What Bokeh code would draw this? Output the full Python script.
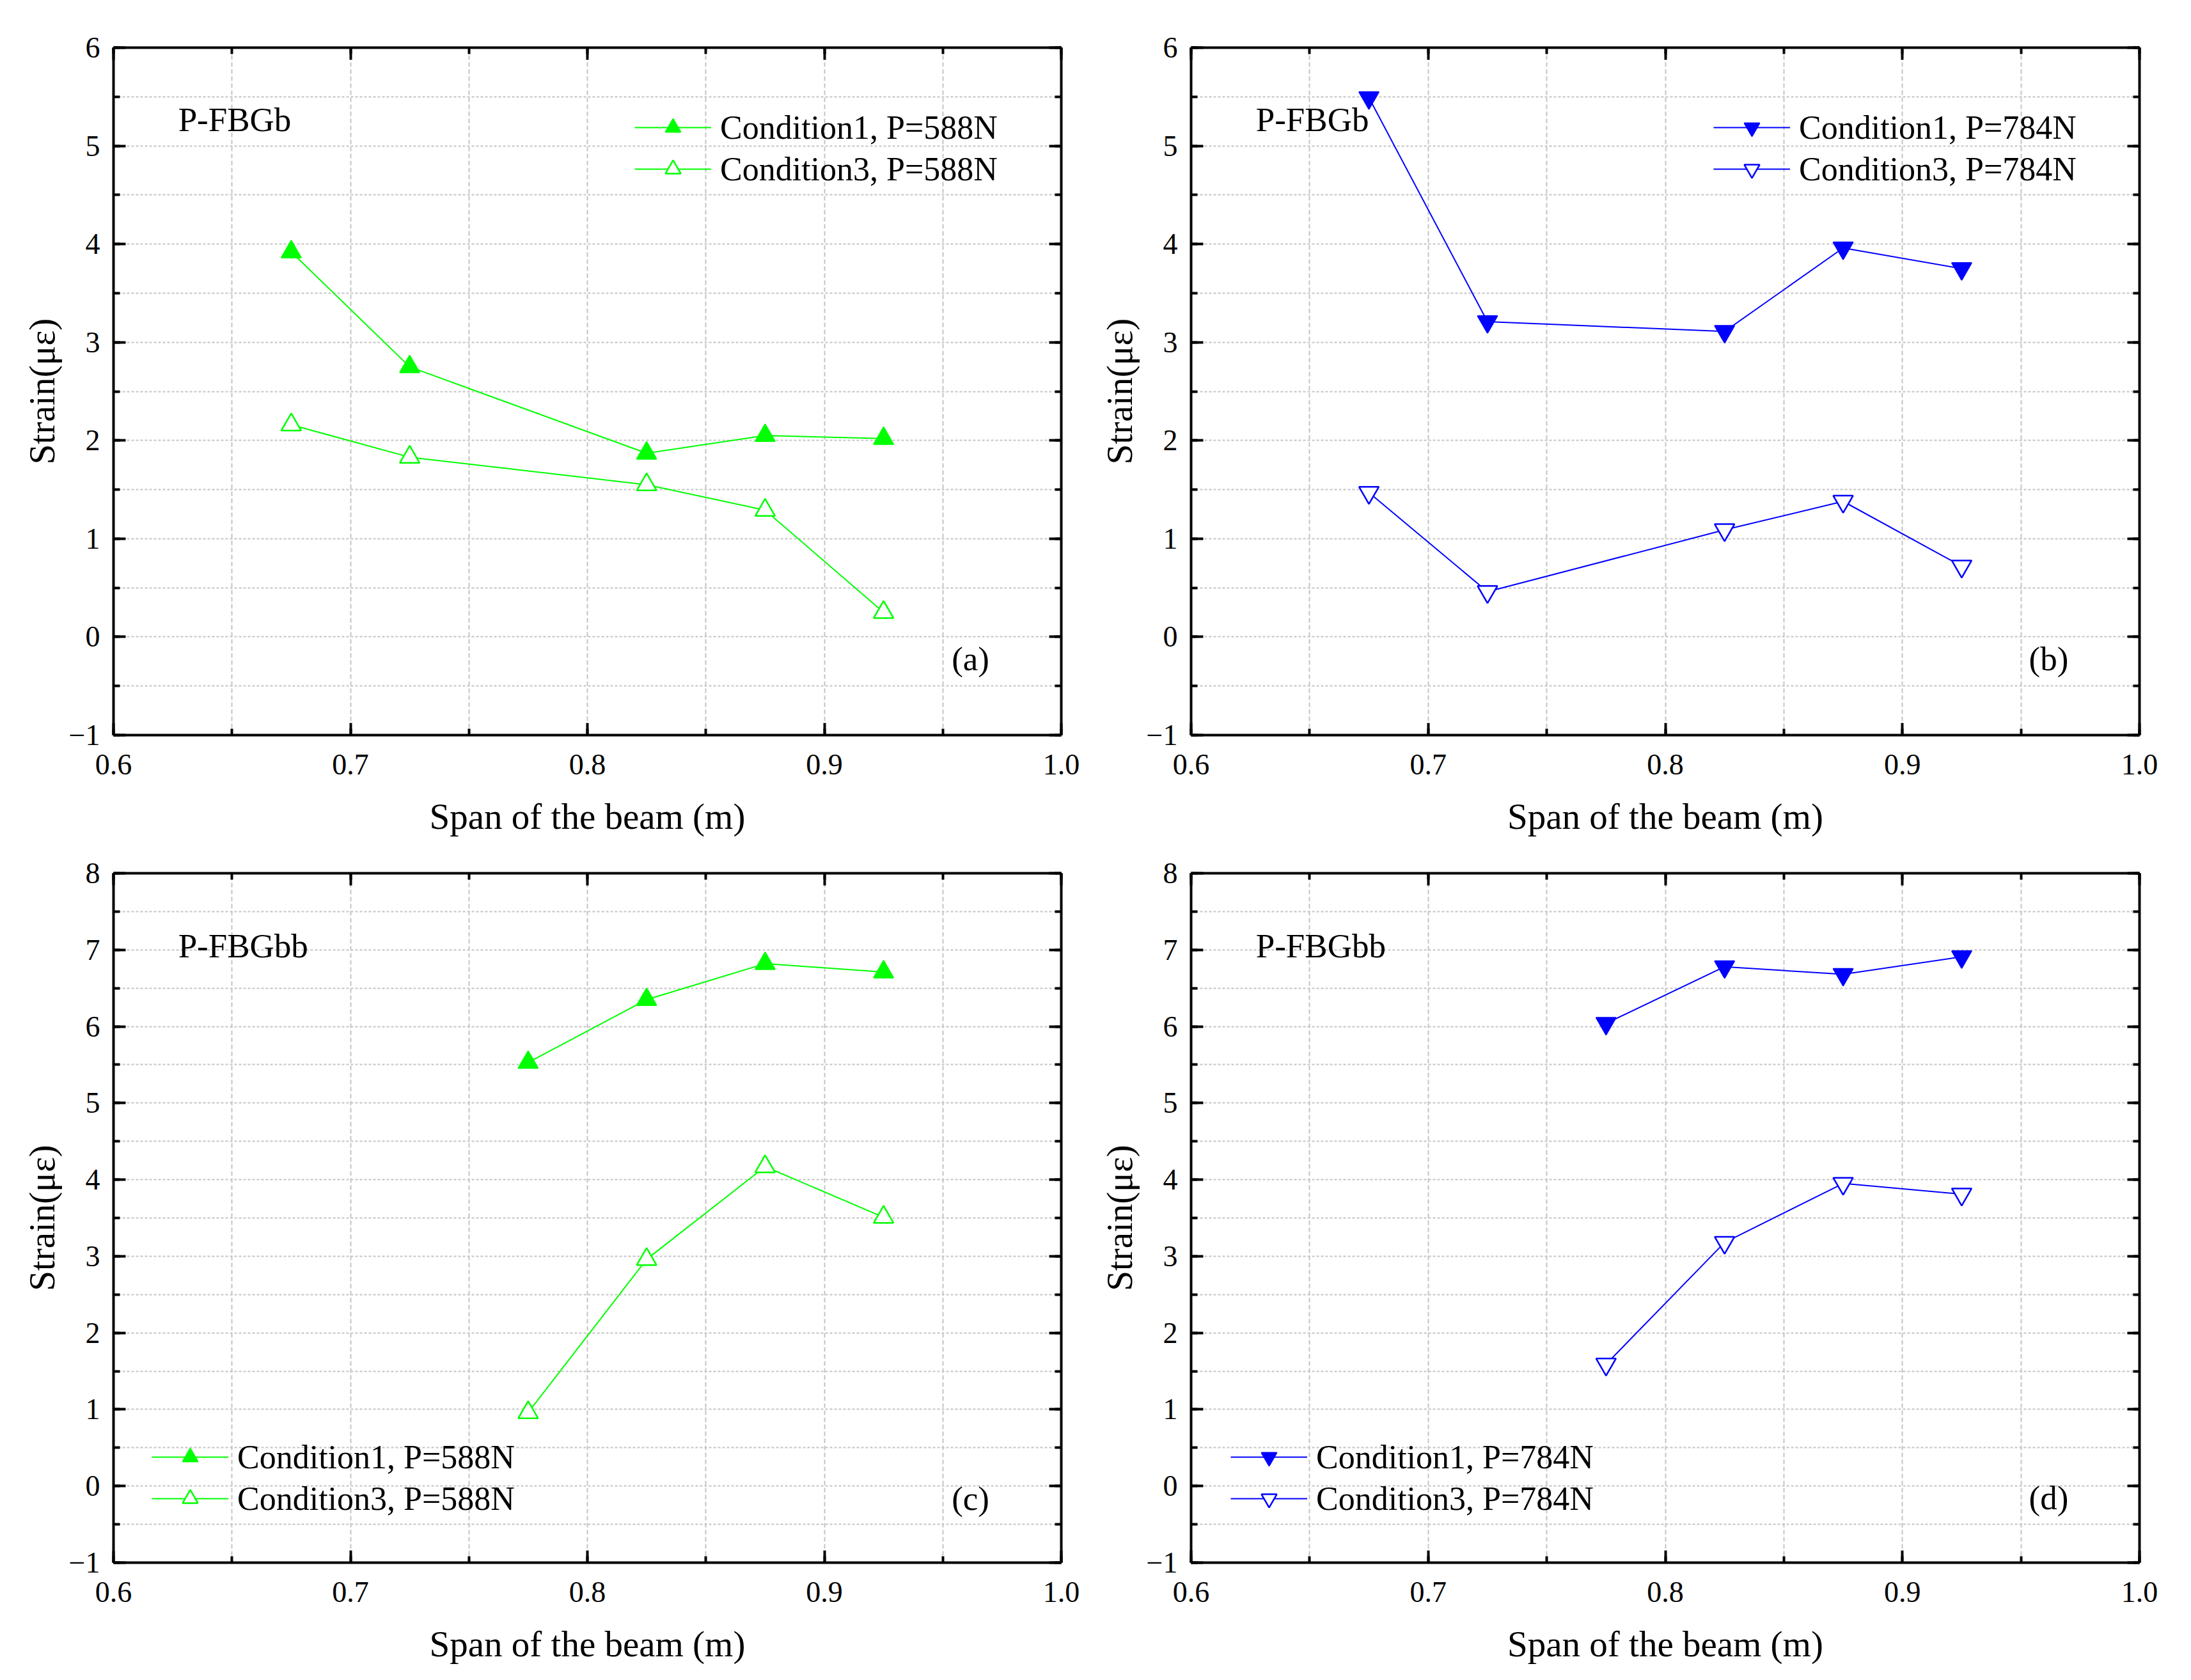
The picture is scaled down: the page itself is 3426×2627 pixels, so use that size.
from bokeh.plotting import figure
from bokeh.models import (Range1d, SingleIntervalTicker, LinearAxis, Label, Legend,
                          LegendItem, PrintfTickFormatter, CustomLabelingPolicy)
from bokeh.layouts import row, column
from bokeh.embed import file_html
from bokeh.resources import INLINE

# ---- data ----
span_b = [0.675, 0.725, 0.825, 0.875, 0.925]
span_bb = [0.775, 0.825, 0.875, 0.925]
a_cond1 = [3.92, 2.75, 1.87, 2.05, 2.02]
a_cond3 = [2.16, 1.83, 1.55, 1.29, 0.25]
b_cond1 = [5.49, 3.21, 3.11, 3.96, 3.75]
b_cond3 = [1.47, 0.46, 1.09, 1.38, 0.72]
c_cond1 = [5.53, 6.35, 6.82, 6.71]
c_cond3 = [0.96, 2.96, 4.17, 3.51]
d_cond1 = [6.04, 6.78, 6.68, 6.91]
d_cond3 = [1.59, 3.18, 3.95, 3.81]

FONT = "Liberation Serif"
GREEN = "#00ff00"
BLUE = "#0000ff"


def style_axis(ax, show_labels, ticker):
    ax.ticker = ticker
    ax.axis_line_width = 4
    ax.axis_line_color = "black"
    ax.major_tick_in = 19
    ax.major_tick_out = 0
    ax.minor_tick_in = 10
    ax.minor_tick_out = 0
    ax.major_tick_line_width = 4
    ax.minor_tick_line_width = 4
    ax.major_tick_line_color = "black"
    ax.minor_tick_line_color = "black"
    if show_labels:
        ax.major_label_text_font = FONT
        ax.major_label_text_font_size = "46px"
        ax.major_label_text_color = "black"
        ax.axis_label_text_font = FONT
        ax.axis_label_text_font_size = "57px"
        ax.axis_label_text_font_style = "normal"
        ax.axis_label_text_color = "black"
    else:
        ax.major_label_policy = CustomLabelingPolicy(code="return []")
        ax.major_label_standoff = 0
        ax.axis_label = None


def panel(xs, y1, y3, ymax, color, marker, load, name, tag,
          width, height, bl, br, bt, bb, leg_loc, tag_y):
    p = figure(width=width, height=height, output_backend="svg",
               toolbar_location=None, x_range=Range1d(0.6, 1.0),
               y_range=Range1d(-1, ymax),
               min_border_left=bl, min_border_right=br,
               min_border_top=bt, min_border_bottom=bb,
               x_axis_label="Span of the beam (m)", y_axis_label="Strain(\u03bc\u03b5)")
    p.background_fill_color = "white"
    p.border_fill_color = "white"
    p.outline_line_color = None

    xt = SingleIntervalTicker(interval=0.1, num_minor_ticks=2)
    yt = SingleIntervalTicker(interval=1, num_minor_ticks=2)

    style_axis(p.xaxis[0], True, xt)
    style_axis(p.yaxis[0], True, yt)
    p.xaxis[0].formatter = PrintfTickFormatter(format="%.1f")
    p.xaxis[0].major_label_standoff = 30
    p.yaxis[0].major_label_standoff = 21
    p.xaxis[0].axis_label_standoff = 31
    p.yaxis[0].axis_label_standoff = 8
    p.yaxis[0].major_label_overrides = {-1: "\u22121"}

    top = LinearAxis()
    style_axis(top, False, xt)
    p.add_layout(top, "above")
    right = LinearAxis()
    style_axis(right, False, yt)
    p.add_layout(right, "right")

    for g, t in ((p.xgrid[0], xt), (p.ygrid[0], yt)):
        g.ticker = t
        g.grid_line_color = None
        g.minor_grid_line_color = "#c4c4c4"
        g.minor_grid_line_width = 2
    p.xgrid[0].minor_grid_line_dash = "7 4"
    p.ygrid[0].minor_grid_line_dash = "4 3"

    l1 = p.line(xs, y1, line_color=color, line_width=2)
    m1 = p.scatter(xs, y1, marker=marker, size=31, fill_color=color,
                   line_color=color, line_width=2)
    l3 = p.line(xs, y3, line_color=color, line_width=2)
    m3 = p.scatter(xs, y3, marker=marker, size=31, fill_color="white",
                   line_color=color, line_width=2.5)

    legend = Legend(items=[
        LegendItem(label="Condition1, P=%sN" % load, renderers=[l1, m1]),
        LegendItem(label="Condition3, P=%sN" % load, renderers=[l3, m3]),
    ], location=leg_loc)
    legend.label_text_font = FONT
    legend.label_text_font_size = "52px"
    legend.label_text_color = "black"
    legend.glyph_width = 120
    legend.glyph_height = 60
    legend.label_height = 60
    legend.label_standoff = 14
    legend.spacing = 5
    legend.padding = 0
    legend.margin = 0
    legend.border_line_color = None
    legend.background_fill_alpha = 0
    p.add_layout(legend, "center")

    p.add_layout(Label(x=0.6273, y=name[1], text=name[0], text_font=FONT,
                       text_font_size="53px", text_baseline="middle",
                       text_align="left", text_color="black"))
    p.add_layout(Label(x=0.9617, y=tag_y, text=tag, text_font=FONT,
                       text_font_size="53px", text_baseline="middle",
                       text_align="center", text_color="black"))
    return p


pa = panel(span_b, a_cond1, a_cond3, 6, GREEN, "triangle", "588", ("P-FBGb", 5.265), "(a)",
           1713, 1313, 177, 54, 74, 164, (815, 855), -0.22)
pb = panel(span_b, b_cond1, b_cond3, 6, BLUE, "inverted_triangle", "784", ("P-FBGb", 5.265), "(b)",
           1707, 1313, 149, 75, 74, 164, (817, 855), -0.225)
pc = panel(span_bb, c_cond1, c_cond3, 8, GREEN, "triangle", "588", ("P-FBGbb", 7.05), "(c)",
           1713, 1307, 177, 54, 52, 177, (60, 70), -0.165)
pd = panel(span_bb, d_cond1, d_cond3, 8, BLUE, "inverted_triangle", "784", ("P-FBGbb", 7.05), "(d)",
           1707, 1307, 149, 75, 52, 177, (62, 70), -0.15)

layout = column(row(pa, pb), row(pc, pd))
open("out.html", "w").write(file_html(layout, INLINE))
